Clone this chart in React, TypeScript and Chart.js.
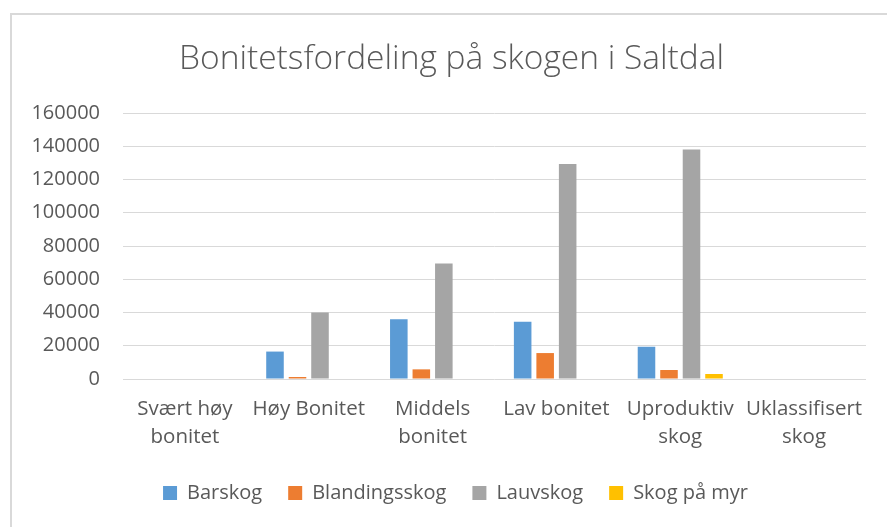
import React, { useEffect, useRef } from "react";
import { Chart, registerables } from "chart.js";

Chart.register(...registerables);

const categories: (string | string[])[] = [
  ["Svært høy", "bonitet"],
  "Høy Bonitet",
  ["Middels", "bonitet"],
  "Lav bonitet",
  ["Uproduktiv", "skog"],
  ["Uklassifisert", "skog"],
];

const barskog = [0, 16500, 36000, 34500, 19400, 0];
const blandingsskog = [0, 1200, 5800, 15600, 5400, 0];
const lauvskog = [0, 40000, 69500, 129300, 138100, 0];
const skogPaMyr = [0, 0, 0, 0, 3000, 0];

const seriesNames = ["Barskog", "Blandingsskog", "Lauvskog", "Skog på myr"];
const seriesColors = ["#5b9bd5", "#ed7d31", "#a5a5a5", "#ffc000"];

const yMin = 0;
const yMax = 160000;
const yStep = 20000;

const titleText = "Bonitetsfordeling på skogen i Saltdal";

const TEXT = "#595959";
const GRID = "#d9d9d9";
const FONT = "'Open Sans', 'Noto Sans', sans-serif";

const framePlugin = {
  id: "frame",
  beforeDraw(chart: any) {
    const ctx = chart.ctx;
    ctx.save();
    ctx.fillStyle = "#ffffff";
    ctx.fillRect(0, 0, chart.width, chart.height);
    ctx.fillStyle = "#d9d9d9";
    ctx.fillRect(10, 13, 2, chart.height - 13);
    ctx.fillRect(10, 13, chart.width - 10, 2);
    ctx.restore();
  },
};

// centre the title and legend on the chart frame rather than the canvas
const centrePlugin = {
  id: "centreShift",
  afterLayout(chart: any) {
    if (chart.legend) {
      chart.legend.left += 8;
      chart.legend.right += 8;
    }
    if (chart.titleBlock) {
      chart.titleBlock.left += 4;
      chart.titleBlock.right += 4;
    }
  },
};

export default function App() {
  const ref = useRef<HTMLCanvasElement | null>(null);

  useEffect(() => {
    document.body.style.margin = "0";
    document.body.style.overflow = "hidden";
    if (!ref.current) return;
    const allSeries = [barskog, blandingsskog, lauvskog, skogPaMyr];
    const chart = new Chart(ref.current, {
      type: "bar",
      data: {
        labels: categories,
        datasets: allSeries.map((d, i) => ({
          label: seriesNames[i],
          data: d,
          backgroundColor: seriesColors[i],
          borderWidth: 0,
          categoryPercentage: 0.727,
          barPercentage: 0.78,
        })),
      },
      options: {
        animation: false,
        responsive: false,
        maintainAspectRatio: false,
        layout: { padding: { top: 15, left: 29, right: 21, bottom: 14 } },
        plugins: {
          title: {
            display: true,
            text: titleText,
            color: TEXT,
            font: { family: FONT, size: 33.5, weight: "300" as any, lineHeight: 1.2 },
            padding: { top: 24, bottom: 33.8 },
          },
          legend: {
            position: "bottom",
            labels: {
              color: TEXT,
              font: { family: FONT, size: 20 },
              boxWidth: 14,
              boxHeight: 14,
              padding: 26,
            },
          },
          tooltip: { enabled: false },
        },
        scales: {
          x: {
            grid: { display: false, drawTicks: false },
            border: { display: false },
            ticks: {
              color: TEXT,
              font: { family: FONT, size: 20.5, lineHeight: 1.37 },
              padding: 16,
              maxRotation: 0,
              autoSkip: false,
            },
            afterFit(scale: any) {
              scale.height = 78;
            },
          },
          y: {
            min: yMin,
            max: yMax,
            grid: { color: GRID, lineWidth: 1, drawTicks: false },
            border: { display: false },
            ticks: {
              stepSize: yStep,
              color: TEXT,
              font: { family: FONT, size: 20 },
              padding: 23,
              callback: (v: any) => String(v),
            },
            afterFit(scale: any) {
              scale.width = 94;
            },
          },
        },
      },
      plugins: [framePlugin, centrePlugin],
    });
    return () => chart.destroy();
  }, []);

  return (
    <div style={{ position: "fixed", left: 0, top: 0, width: 887, height: 527 }}>
      <canvas ref={ref} width={887} height={527} style={{ display: "block" }} />
    </div>
  );
}
